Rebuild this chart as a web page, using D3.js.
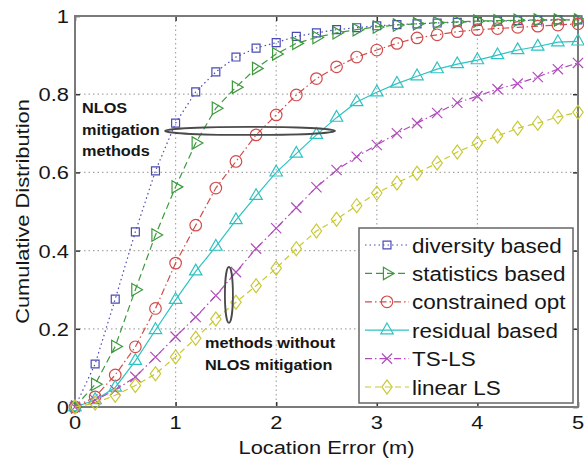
<!DOCTYPE html>
<html>
<head>
<meta charset="utf-8">
<script src="https://cdn.jsdelivr.net/npm/d3@7"></script>
<style>
  body { margin: 0; background: #fff; }
  svg { display: block; }
  text { font-family: "Liberation Sans", Arial, sans-serif; fill: #161616; }
</style>
</head>
<body>
<svg id="chart" width="584" height="463"></svg>
<script>
// Location error samples (m)
const locationError = [0, 0.2, 0.4, 0.6, 0.8, 1.0, 1.2, 1.4, 1.6, 1.8, 2.0, 2.2, 2.4,
  2.6, 2.8, 3.0, 3.2, 3.4, 3.6, 3.8, 4.0, 4.2, 4.4, 4.6, 4.8, 5.0];

// Cumulative distribution of each positioning method
const diversityBased = [0, 0.11, 0.276, 0.448, 0.604, 0.726, 0.806, 0.857, 0.895, 0.918,
  0.932, 0.948, 0.957, 0.965, 0.97, 0.975, 0.978, 0.98, 0.982, 0.984, 0.986, 0.987, 0.988,
  0.989, 0.99, 0.99];
const statisticsBased = [0, 0.058, 0.155, 0.30, 0.44, 0.563, 0.675, 0.764, 0.818, 0.866,
  0.903, 0.93, 0.945, 0.957, 0.965, 0.972, 0.977, 0.98, 0.983, 0.985, 0.987, 0.988, 0.989,
  0.99, 0.99, 0.99];
const constrainedOpt = [0, 0.026, 0.082, 0.154, 0.252, 0.368, 0.465, 0.56, 0.628, 0.696,
  0.747, 0.798, 0.84, 0.87, 0.895, 0.913, 0.93, 0.944, 0.952, 0.96, 0.965, 0.968, 0.971,
  0.974, 0.977, 0.98];
const residualBased = [0, 0.018, 0.05, 0.118, 0.197, 0.274, 0.347, 0.41, 0.478, 0.54,
  0.60, 0.648, 0.696, 0.74, 0.78, 0.805, 0.827, 0.846, 0.864, 0.877, 0.887, 0.90, 0.913,
  0.922, 0.933, 0.935];
const tsLS = [0, 0.018, 0.043, 0.077, 0.128, 0.18, 0.23, 0.285, 0.345, 0.405, 0.457,
  0.51, 0.562, 0.606, 0.64, 0.67, 0.70, 0.726, 0.752, 0.778, 0.795, 0.813, 0.827, 0.844,
  0.864, 0.88];
const linearLS = [0, 0.01, 0.03, 0.055, 0.085, 0.128, 0.176, 0.225, 0.268, 0.31, 0.355,
  0.405, 0.45, 0.48, 0.515, 0.547, 0.573, 0.598, 0.624, 0.652, 0.675, 0.693, 0.713, 0.726,
  0.742, 0.754];

const seriesNames = ["diversity based", "statistics based", "constrained opt",
  "residual based", "TS-LS", "linear LS"];
const seriesValues = [diversityBased, statisticsBased, constrainedOpt, residualBased, tsLS, linearLS];

const xTicks = [0, 1, 2, 3, 4, 5];
const yTicks = [0, 0.2, 0.4, 0.6, 0.8, 1];
const xLabel = "Location Error (m)";
const yLabel = "Cumulative Distribution";

// Styling per series (colour, dash, marker)
const styles = [
  { color: "#4b4bb8", dash: "1.5,3", marker: "square" },
  { color: "#3c9a3c", dash: "7,4", marker: "triright" },
  { color: "#d24c4c", dash: "7,3,1.5,3", marker: "circle" },
  { color: "#2ec2c2", dash: null, marker: "triup" },
  { color: "#b04cbc", dash: "7,3,1.5,3", marker: "times" },
  { color: "#c8c832", dash: "6,4", marker: "diamond" }
];

const svg = d3.select("#chart");
const plot = { left: 75, right: 578, top: 16, bottom: 407 };
const x = d3.scaleLinear().domain([0, 5]).range([plot.left, plot.right]);
const y = d3.scaleLinear().domain([0, 1]).range([plot.bottom, plot.top]);
const stretch = 1.15; // wide lettering

// Grid
const grid = svg.append("g").attr("stroke", "#a8a8a8").attr("stroke-width", 1.2)
  .attr("stroke-dasharray", "1.5,3");
grid.selectAll(".gx").data(xTicks.slice(1, -1)).join("line")
  .attr("x1", d => x(d)).attr("x2", d => x(d)).attr("y1", plot.top).attr("y2", plot.bottom);
grid.selectAll(".gy").data(yTicks.slice(1, -1)).join("line")
  .attr("y1", d => y(d)).attr("y2", d => y(d)).attr("x1", plot.left).attr("x2", plot.right);

// Axes with inward ticks on all four sides
const axisColor = "#7a7a7a";
function styleAxis(g) {
  g.select(".domain").remove();
  g.selectAll(".tick line").attr("stroke", "#333").attr("stroke-width", 1.5);
  g.selectAll(".tick text").remove();
}
svg.append("g").attr("transform", `translate(0,${plot.bottom})`)
  .call(d3.axisBottom(x).tickValues(xTicks).tickSize(-5)).call(styleAxis);
svg.append("g").attr("transform", `translate(0,${plot.top})`)
  .call(d3.axisTop(x).tickValues(xTicks).tickSize(-5)).call(styleAxis);
svg.append("g").attr("transform", `translate(${plot.left},0)`)
  .call(d3.axisLeft(y).tickValues(yTicks).tickSize(-5)).call(styleAxis);
svg.append("g").attr("transform", `translate(${plot.right},0)`)
  .call(d3.axisRight(y).tickValues(yTicks).tickSize(-5)).call(styleAxis);

svg.append("rect")
  .attr("x", plot.left).attr("y", plot.top)
  .attr("width", plot.right - plot.left).attr("height", plot.bottom - plot.top)
  .attr("fill", "none").attr("stroke", axisColor).attr("stroke-width", 2);

// Tick labels
svg.selectAll(".xl").data(xTicks).join("text")
  .attr("transform", d => `translate(${x(d)},${plot.bottom + 22}) scale(${stretch},1)`)
  .attr("text-anchor", "middle").attr("font-size", 19).text(d => d3.format("")(d));
svg.selectAll(".yl").data(yTicks).join("text")
  .attr("transform", d => `translate(${plot.left - 6},${y(d) + 7}) scale(${stretch},1)`)
  .attr("text-anchor", "end").attr("font-size", 19).text(d => d3.format("")(d));

// Axis titles
svg.append("text")
  .attr("transform", `translate(${(plot.left + plot.right) / 2},${plot.bottom + 47}) scale(${stretch},1)`)
  .attr("text-anchor", "middle").attr("font-size", 19).text(xLabel);
svg.append("text")
  .attr("transform", `translate(29,${(plot.top + plot.bottom) / 2}) rotate(-90) scale(${stretch},1)`)
  .attr("text-anchor", "middle").attr("font-size", 19).text(yLabel);

// Marker shapes
function markerPath(kind) {
  switch (kind) {
    case "square": return d3.symbol(d3.symbolSquare2, 80)();
    case "triright": return d3.symbol(d3.symbolTriangle2, 110)();
    case "circle": return d3.symbol(d3.symbolCircle, 105)();
    case "triup": return d3.symbol(d3.symbolTriangle2, 110)();
    case "times": return d3.symbol(d3.symbolTimes, 70)();
    case "diamond": return d3.symbol(d3.symbolDiamond2, 95)();
  }
}
function markerTransform(kind, px, py) {
  if (kind === "triright") return `translate(${px},${py}) rotate(90)`;
  if (kind === "diamond") return `translate(${px},${py}) scale(0.85,1.15)`;
  return `translate(${px},${py})`;
}

const line = d3.line().x((d, i) => x(locationError[i])).y(d => y(d));

// Curves
const curves = svg.append("g");
seriesValues.forEach((vals, k) => {
  const st = styles[k];
  const g = curves.append("g");
  g.append("path").datum(vals).attr("d", line)
    .attr("fill", "none").attr("stroke", st.color).attr("stroke-width", 1.2)
    .attr("stroke-dasharray", st.dash);
  g.selectAll("path.m").data(vals).join("path").attr("class", "m")
    .attr("d", markerPath(st.marker))
    .attr("transform", (d, i) => markerTransform(st.marker, x(locationError[i]), y(d)))
    .attr("fill", "none").attr("stroke", st.color).attr("stroke-width", 1.2);
});

// Legend
const legend = { x0: 359, y0: 228, x1: 573, y1: 403 };
svg.append("rect")
  .attr("x", legend.x0).attr("y", legend.y0)
  .attr("width", legend.x1 - legend.x0).attr("height", legend.y1 - legend.y0)
  .attr("fill", "#fff").attr("stroke", "#666").attr("stroke-width", 1.5);
const rowY = i => legend.y0 + 17 + i * 28.4;
seriesNames.forEach((name, k) => {
  const st = styles[k];
  const cy = rowY(k);
  svg.append("line").attr("x1", 365).attr("x2", 409).attr("y1", cy).attr("y2", cy)
    .attr("stroke", st.color).attr("stroke-width", 1.2).attr("stroke-dasharray", st.dash);
  svg.append("path").attr("d", markerPath(st.marker))
    .attr("transform", markerTransform(st.marker, 387, cy))
    .attr("fill", "none").attr("stroke", st.color).attr("stroke-width", 1.2);
  svg.append("text")
    .attr("transform", `translate(412,${cy + 7.5}) scale(1.07,1)`)
    .attr("font-size", 21).text(name);
});

// Annotations
const noteColor = "#4a4a4a";
svg.append("ellipse")
  .attr("cx", x(1.74)).attr("cy", y(0.706)).attr("rx", 85).attr("ry", 4)
  .attr("fill", "none").attr("stroke", noteColor).attr("stroke-width", 1.8);
svg.append("ellipse")
  .attr("cx", x(1.53)).attr("cy", y(0.287)).attr("rx", 4).attr("ry", 28)
  .attr("fill", "none").attr("stroke", noteColor).attr("stroke-width", 1.8);

const note1 = ["NLOS", "mitigation", "methods"];
svg.selectAll(".n1").data(note1).join("text")
  .attr("transform", (d, i) => `translate(82,${113 + i * 21.5}) scale(1.05,1)`)
  .attr("font-size", 15.5).attr("font-weight", "bold").text(d => d);
const note2 = ["methods without", "NLOS mitigation"];
svg.selectAll(".n2").data(note2).join("text")
  .attr("transform", (d, i) => `translate(205,${348 + i * 21.5}) scale(1.05,1)`)
  .attr("font-size", 15.5).attr("font-weight", "bold").text(d => d);
</script>
</body>
</html>
